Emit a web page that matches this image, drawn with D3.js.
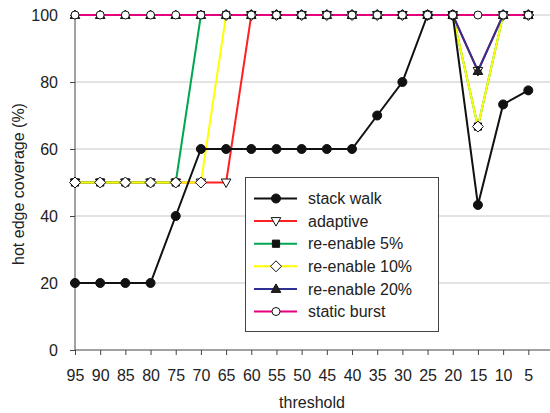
<!DOCTYPE html>
<html>
<head>
<meta charset="utf-8">
<script src="https://cdn.jsdelivr.net/npm/d3@7"></script>
<style>
  body { margin: 0; background: #fff; }
  text { font-family: "Liberation Sans", Arial, sans-serif; fill: #222; }
</style>
</head>
<body>
<svg id="chart" width="550" height="413"></svg>
<script>
// data
var thresholds  = [95,90,85,80,75,70,65,60,55,50,45,40,35,30,25,20,15,10,5];
var stackWalk   = [20,20,20,20,40,60,60,60,60,60,60,60,70,80,100,100,43.3,73.3,77.5];
var adaptive    = [50,50,50,50,50,50,50,100,100,100,100,100,100,100,100,100,83.3,100,100];
var reEnable5   = [50,50,50,50,50,100,100,100,100,100,100,100,100,100,100,100,66.7,100,100];
var reEnable10  = [50,50,50,50,50,50,100,100,100,100,100,100,100,100,100,100,66.7,100,100];
var reEnable20  = [100,100,100,100,100,100,100,100,100,100,100,100,100,100,100,100,83.3,100,100];
var staticBurst = [100,100,100,100,100,100,100,100,100,100,100,100,100,100,100,100,100,100,100];
var yTicks = [0,20,40,60,80,100];
var seriesNames = ["stack walk","adaptive","re-enable 5%","re-enable 10%","re-enable 20%","static burst"];

var series = [
  {name: seriesNames[0], values: stackWalk,   color: "#111111", marker: "circle",  fill: "#111111"},
  {name: seriesNames[1], values: adaptive,    color: "#ff2020", marker: "triDown", fill: "#ffffff"},
  {name: seriesNames[2], values: reEnable5,   color: "#00a651", marker: "square",  fill: "#111111"},
  {name: seriesNames[3], values: reEnable10,  color: "#ffff00", marker: "diamond", fill: "#ffffff"},
  {name: seriesNames[4], values: reEnable20,  color: "#2e3192", marker: "triUp",   fill: "#222222"},
  {name: seriesNames[5], values: staticBurst, color: "#e6007e", marker: "ring",    fill: "#ffffff"}
];
// order the lines get painted in (last on top)
var drawOrder = [1, 2, 3, 4, 0, 5];

var plotLeft = 75, plotRight = 550, plotTop = 15, plotBottom = 350;

var svg = d3.select("#chart");

var x = d3.scalePoint().domain(thresholds).range([plotLeft, 528.3]).padding(0);
var y = d3.scaleLinear().domain([0, 100]).range([plotBottom, plotTop]);

// grid
svg.append("g").selectAll("line")
  .data(yTicks.filter(function(d){ return d > 0; }))
  .enter().append("line")
  .attr("x1", plotLeft).attr("x2", plotRight)
  .attr("y1", function(d){ return y(d); }).attr("y2", function(d){ return y(d); })
  .attr("stroke", "#c8c8c8").attr("stroke-width", 1);

// axes
var yAxis = svg.append("g").attr("transform", "translate(" + plotLeft + ",0)")
  .call(d3.axisLeft(y).tickValues(yTicks).tickSize(5).tickPadding(12));
var xAxis = svg.append("g").attr("transform", "translate(0," + plotBottom + ")")
  .call(d3.axisBottom(x).tickSize(5).tickPadding(15));

[yAxis, xAxis].forEach(function(a){
  a.select(".domain").remove();
  a.selectAll(".tick line").attr("stroke", "#444");
  a.selectAll(".tick text").style("font-size", "16px").attr("fill", "#222");
});
svg.append("line").attr("x1", plotLeft).attr("x2", plotLeft).attr("y1", plotTop).attr("y2", plotBottom)
  .attr("stroke", "#444");
svg.append("line").attr("x1", plotLeft).attr("x2", plotRight).attr("y1", plotBottom).attr("y2", plotBottom)
  .attr("stroke", "#444");

// titles
svg.append("text").attr("x", 312).attr("y", 408).attr("text-anchor", "middle")
  .style("font-size", "16px").text("threshold");
svg.append("text").attr("transform", "translate(24,184) rotate(-90)").attr("text-anchor", "middle")
  .style("font-size", "16px").text("hot edge coverage (%)");

function markerPath(type) {
  switch (type) {
    case "circle":  return "M4.5,0A4.5,4.5,0,1,1,-4.5,0A4.5,4.5,0,1,1,4.5,0Z";
    case "ring":    return "M4,0A4,4,0,1,1,-4,0A4,4,0,1,1,4,0Z";
    case "square":  return "M-3.6,-3.6L3.6,-3.6L3.6,3.6L-3.6,3.6Z";
    case "diamond": return "M0,-5.5L5.5,0L0,5.5L-5.5,0Z";
    case "triUp":   return "M0,-5L4.8,3.5L-4.8,3.5Z";
    case "triDown": return "M0,5L4.8,-3.5L-4.8,-3.5Z";
  }
}

var line = d3.line()
  .x(function(d, i){ return x(thresholds[i]); })
  .y(function(d){ return y(d); });

drawOrder.forEach(function(k){
  var s = series[k];
  svg.append("path").datum(s.values)
    .attr("d", line).attr("fill", "none")
    .attr("stroke", s.color).attr("stroke-width", 2);
});

drawOrder.forEach(function(k){
  var s = series[k];
  svg.append("g").selectAll("path")
    .data(s.values).enter().append("path")
    .attr("transform", function(d, i){ return "translate(" + x(thresholds[i]) + "," + y(d) + ")"; })
    .attr("d", markerPath(s.marker))
    .attr("fill", s.fill).attr("stroke", "#111").attr("stroke-width", 1);
});

// legend
var legend = svg.append("g");
legend.append("rect").attr("x", 245.5).attr("y", 177.5).attr("width", 193).attr("height", 154)
  .attr("fill", "#fff").attr("stroke", "#444").attr("stroke-width", 1);
var item = legend.selectAll(".item").data(series).enter().append("g")
  .attr("class", "item")
  .attr("transform", function(d, i){ return "translate(0," + (198.5 + i * 22.6) + ")"; });
item.append("line").attr("x1", 254).attr("x2", 297)
  .attr("stroke", function(d){ return d.color; }).attr("stroke-width", 2);
item.append("path").attr("transform", "translate(276,0)")
  .attr("d", function(d){ return markerPath(d.marker); })
  .attr("fill", function(d){ return d.fill; }).attr("stroke", "#111").attr("stroke-width", 1);
item.append("text").attr("x", 308).attr("dy", "0.35em").style("font-size", "16px")
  .text(function(d){ return d.name; });
</script>
</body>
</html>
